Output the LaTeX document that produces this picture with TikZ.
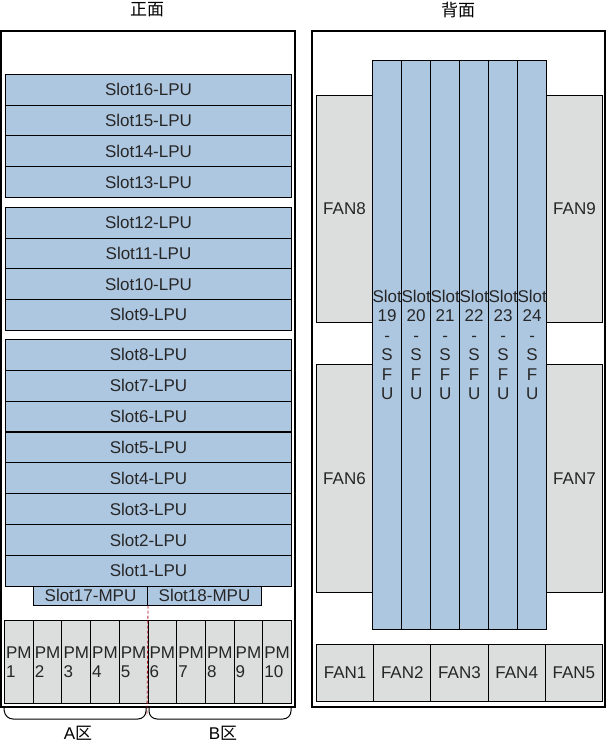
\documentclass[tikz,border=0pt]{standalone}
\usepackage{fontspec}
\setmainfont{Liberation Sans}
\newfontfamily\cjk{Noto Sans CJK SC}
\usetikzlibrary{positioning}

\definecolor{slotblue}{RGB}{174,199,225}
\definecolor{fangray}{RGB}{220,221,221}
\definecolor{splitred}{RGB}{180,20,30}

\tikzset{
  board/.style={draw=black, line width=1pt, inner sep=0pt, text=black!85},
  lpu/.style={board, fill=slotblue, minimum width=286pt, minimum height=30.7pt},
  mpu/.style={board, fill=slotblue, minimum width=114pt, minimum height=18.5pt},
  pm/.style={board, fill=fangray, minimum width=28.7pt, minimum height=83pt, align=left},
  sfu/.style={board, fill=slotblue, minimum width=29pt, minimum height=569pt, align=center},
  fan/.style={board, fill=fangray},
  frame/.style={draw=black, line width=1.5pt},
}

\begin{document}
\begin{tikzpicture}[x=1pt, y=-1pt, font=\fontsize{17}{19.5}\selectfont, line width=1pt]
  \useasboundingbox (0,0) rectangle (606,747);

  % Titoli
  \node (fronttitle) at (147,10) {\cjk 正面};
  \node (backtitle) at (458,10) {\cjk 背面};

  % Telai
  \draw[frame] (1,31) rectangle (295,707);
  \draw[frame] (312,31) rectangle (605,707);

  % Schede LPU (tre gruppi)
  \foreach \n [count=\i from 0] in {16,15,14,13}
    \node[lpu, anchor=north west] (lpu\n) at (5,{74+30.7*\i}) {Slot\n-LPU};
  \foreach \n [count=\i from 0] in {12,11,10,9}
    \node[lpu, anchor=north west] (lpu\n) at (5,{207+30.6*\i}) {Slot\n-LPU};
  \foreach \n [count=\i from 0] in {8,7,...,1}
    \node[lpu, anchor=north west] (lpu\n) at (5,{339+30.85*\i}) {Slot\n-LPU};

  % Schede MPU
  \node[mpu, anchor=north west] (mpu17) at (33,586) {Slot17-MPU};
  \node[mpu, anchor=north west] (mpu18) at (147,586) {Slot18-MPU};

  % Alimentatori
  \foreach \n [count=\i from 0] in {1,...,10}
    \node[pm, anchor=north west] (pm\n) at ({4+28.7*\i},620) {PM\\\n};

  % Divisione A/B
  \coordinate (splitbot) at (147,716);
  \draw[splitred, dash pattern=on 3pt off 2pt, line width=0.8pt] (mpu17.south east) -- (splitbot);
  \draw[rounded corners=8pt] (pm1.south west) ++(0,4) -- (5,719) -- (146,719) -- (146,707);
  \draw[rounded corners=8pt] (149,707) -- (149,719) -- (291,719) -- (291,707);
  \node (zonea) at (78,733) {A\cjk 区};
  \node (zoneb) at (223,733) {B\cjk 区};

  % Ventole laterali
  \node[fan, minimum width=56pt, minimum height=227pt, anchor=north west] (fan8) at (316,95) {FAN8};
  \node[fan, minimum width=56pt, minimum height=227pt, anchor=north west] (fan9) at (546,95) {FAN9};
  \node[fan, minimum width=56pt, minimum height=228pt, anchor=north west] (fan6) at (316,364) {FAN6};
  \node[fan, minimum width=56pt, minimum height=228pt, anchor=north west] (fan7) at (546,364) {FAN7};

  % Schede SFU
  \foreach \n [count=\i from 0] in {19,...,24}
    \node[sfu, anchor=north west] (sfu\n) at ({372+29*\i},60) {Slot\\\n\\-\\S\\F\\U};

  % Ventole in basso
  \foreach \n [count=\i from 0] in {1,...,5}
    \node[fan, minimum width=57.2pt, minimum height=57pt, anchor=north west] (fan\n) at ({316+57.2*\i},644) {FAN\n};
\end{tikzpicture}
\end{document}
